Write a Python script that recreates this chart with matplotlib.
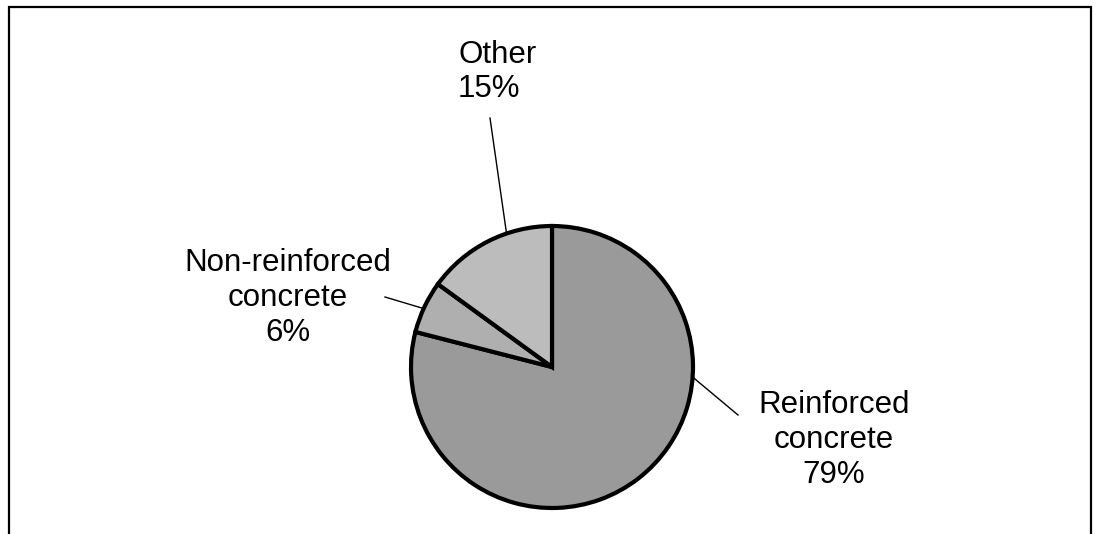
import matplotlib.pyplot as plt
from matplotlib.patches import Rectangle
import numpy as np

# Share of structures by construction material
categories = ["Reinforced\nconcrete", "Non-reinforced\nconcrete", "Other"]
shares = [79, 6, 15]
colors = ["#9a9a9a", "#afafaf", "#bcbcbc"]

W, H = 1096, 534
plt.rcParams["font.family"] = ["Liberation Sans", "DejaVu Sans"]

fig = plt.figure(figsize=(W / 100, H / 100), dpi=100)

# open frame around the chart area (bottom edge runs off the page)
fig.patches.append(Rectangle((9 / W, -0.05), (1091 - 9) / W, (H - 7) / H + 0.05,
                             transform=fig.transFigure, fill=False,
                             edgecolor="black", linewidth=1.6))

cx, cy, r = 552, 367, 141
pad = 1.03
ra = r * pad
ax = fig.add_axes([(cx - ra) / W, (H - cy - ra) / H, 2 * ra / W, 2 * ra / H])
wedges, _ = ax.pie(shares, colors=colors, startangle=90, counterclock=False,
                   radius=1.0,
                   wedgeprops=dict(edgecolor="black", linewidth=3.0))
ax.set_xlim(-pad, pad)
ax.set_ylim(-pad, pad)
ax.axis("off")

# label placement: text anchor (px), alignment, leader start angle, leader end (px)
label_pos = [(834, 440), (288, 298), (458, 72)]
label_ha = ["center", "center", "left"]
leader_angle = [-4.5, 155.6, 108.7]
leader_end = [(738, 415), (385, 297), (490, 118)]


def to_data(px, py):
    return (px - cx) / r, (cy - py) / r


for name, val, pos, ha, ang, end in zip(categories, shares, label_pos,
                                        label_ha, leader_angle, leader_end):
    tx, ty = to_data(*pos)
    ax.text(tx, ty, f"{name}\n{val}%", ha=ha, va="center",
            multialignment=ha, fontsize=22.5, linespacing=1.2,
            clip_on=False)
    a = np.deg2rad(ang)
    ex, ey = to_data(*end)
    ax.plot([np.cos(a) * 1.01, ex], [np.sin(a) * 1.01, ey], color="black",
            linewidth=1.0, clip_on=False)

fig.savefig("out.png", dpi=100)
